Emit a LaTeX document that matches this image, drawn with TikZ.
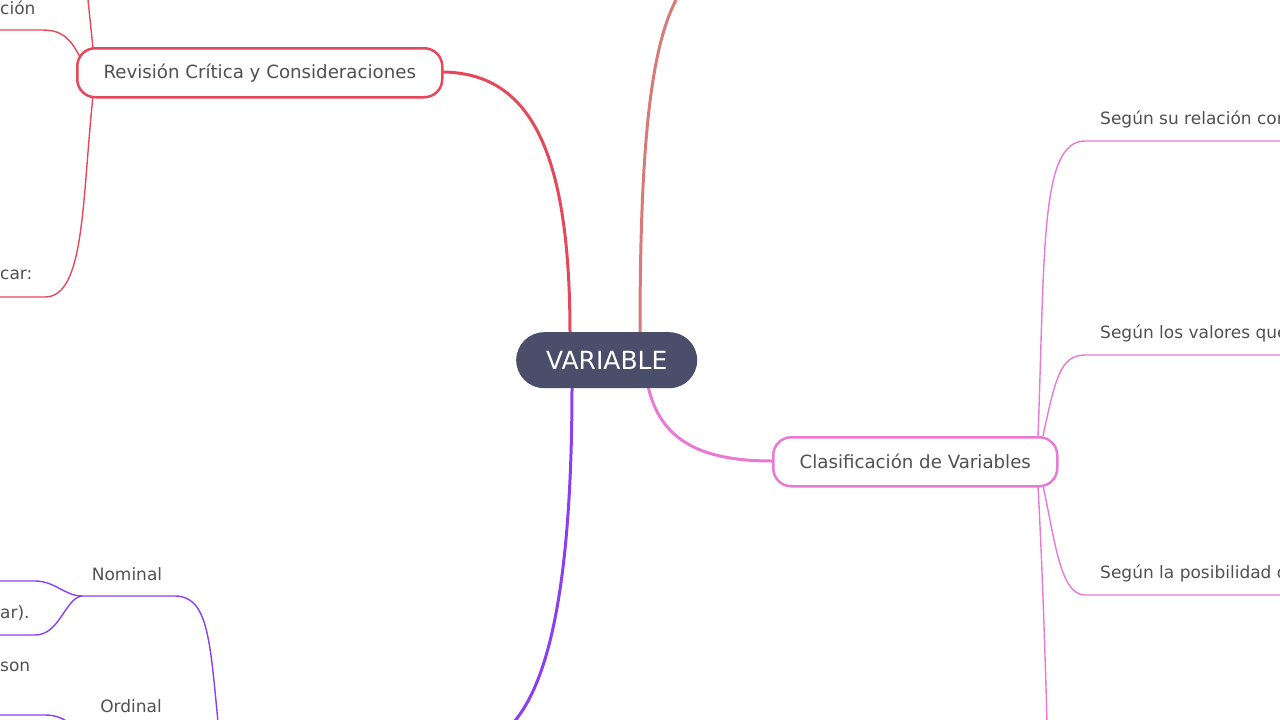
\documentclass[tikz,border=0pt]{standalone}
\usepackage{fontspec}
\setmainfont{DejaVu Sans}
\definecolor{cred}{HTML}{E5485A}
\definecolor{csal}{HTML}{D87A78}
\definecolor{cpink}{HTML}{E879D4}
\definecolor{cpur}{HTML}{8A3FF0}
\definecolor{cdark}{HTML}{4A4E6A}
\definecolor{ctext}{HTML}{505050}
\begin{document}
\begin{tikzpicture}[x=1pt,y=-1pt,
  box/.style={draw, line width=2.5pt, rounded corners=18pt, fill=white, minimum height=49pt, inner xsep=0pt, anchor=north west, text=ctext, font=\fontsize{18.2}{21}\selectfont},
  lbl/.style={text=ctext, font=\fontsize{17}{20}\selectfont, inner sep=0pt},
  br/.style={line width=1.4pt},
  mb/.style={line width=3pt}]
\useasboundingbox (0,0) rectangle (1280,720);
\clip (0,0) rectangle (1280,720);
% main connectors
\draw[mb,cred] (570,334) .. controls (570,150) and (530,72) .. (441,72);
\draw[mb,csal] (640,334) .. controls (640,150) and (650,50) .. (676,0);
\draw[mb,cpink] (648,386) .. controls (660,440) and (700,461) .. (772,461);
\draw[mb,cpur] (572,386) .. controls (572,600) and (545,685) .. (514,722);
% red sub
\draw[br,cred] (93,48) -- (88,0);
\draw[br,cred] (80,57) .. controls (70,38) and (62,30) .. (42,30) -- (0,30);
\draw[br,cred] (93,96) .. controls (82,200) and (85,297) .. (45,297) -- (0,297);
\node[lbl,anchor=west] (t1) at (0,8) {ción};
\node[lbl,anchor=west] (t2) at (0,275) {car:};
% pink sub
\draw[br,cpink] (1038,436) .. controls (1045,250) and (1040,141) .. (1085,141) -- (1280,141);
\draw[br,cpink] (1043,436) .. controls (1055,380) and (1060,355) .. (1085,355) -- (1280,355);
\draw[br,cpink] (1043,486) .. controls (1055,540) and (1060,595) .. (1085,595) -- (1280,595);
\draw[br,cpink] (1038,486) .. controls (1042,560) and (1045,650) .. (1047,722);
\node[lbl,anchor=west] (p1) at (1100,119) {Según su relación con};
\node[lbl,anchor=west] (p2) at (1100,333) {Según los valores que};
\node[lbl,anchor=west] (p3) at (1100,573) {Según la posibilidad de};
% purple sub
\draw[br,cpur] (218,722) .. controls (210,640) and (208,596) .. (175,596) -- (82,596);
\draw[br,cpur] (82,596) .. controls (65,596) and (55,581) .. (35,581) -- (0,581);
\draw[br,cpur] (82,596) .. controls (65,598) and (60,635) .. (35,635) -- (0,635);
\draw[br,cpur] (0,715) -- (45,715) .. controls (55,715) and (62,718) .. (68,722);
\node[lbl] (n1) at (127,574) {Nominal};
\node[lbl] (n2) at (131,706) {Ordinal};
\node[lbl,anchor=west] (n3) at (0,613) {ar).};
\node[lbl,anchor=west] (n4) at (0,667) {son};
% nodes
\node[box,draw=cred,minimum width=365pt] (rev) at (76,47) {Revisión Crítica y Consideraciones};
\node[box,draw=cpink,minimum width=284pt] (cla) at (772,436) {Clasificación de Variables};
\node[fill=cdark,rounded corners=28pt,minimum width=181pt,minimum height=56pt,anchor=north west,text=white,font=\fontsize{25}{28}\selectfont] (var) at (516,332) {VARIABLE};
\end{tikzpicture}
\end{document}
